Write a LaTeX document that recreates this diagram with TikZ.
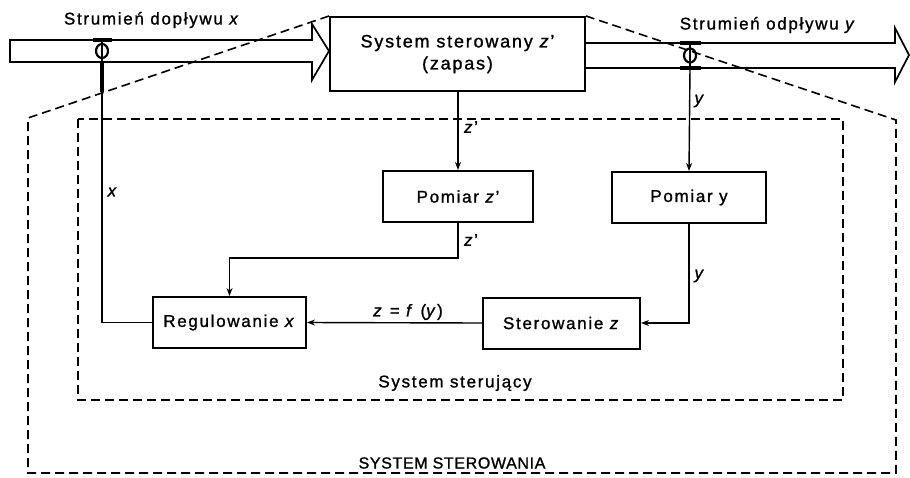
\documentclass[tikz,border=0pt]{standalone}
\usepackage{fontspec}
\setmainfont{Liberation Sans}[LetterSpace=10, FakeBold=1.2]
\usetikzlibrary{arrows.meta}
\begin{document}
\begin{tikzpicture}[x=1pt,y=-1pt,
  every node/.style={font=\fontsize{17}{22}\selectfont},
  box/.style={draw, line width=2pt, inner sep=0pt, minimum height=51pt, align=center},
  conn/.style={line width=1.4pt},
  arr/.style={conn, -{Stealth[length=8pt,width=6pt]}},
  bound/.style={line width=1.6pt, dash pattern=on 9pt off 5pt},
  flow/.style={line width=1.7pt, line join=miter},
  lbl/.style={inner sep=1pt}]
\useasboundingbox (0,0) rectangle (910,477);
% boxes
\node[box, minimum width=255pt, minimum height=74pt, font=\fontsize{18}{22}\selectfont] (main) at (457.5,54) {System sterowany \textit{z}'\\(zapas)};
\node[box, minimum width=150pt] (pz) at (458,196.5) {Pomiar \textit{z}'};
\node[box, minimum width=154pt] (py) at (689,197.5) {Pomiar y};
\node[box, minimum width=153pt] (reg) at (229.5,322.5) {Regulowanie \textit{x}};
\node[box, minimum width=157pt] (st) at (561.5,323) {Sterowanie \textit{z}};
% flow arrows
\draw[flow] (10,40) -- (312,40) -- (312,24) -- (329,51) -- (312,80) -- (312,62) -- (10,62) -- cycle;
\draw[flow] (main.east |- 0,43) -- (895,43) -- (895,28) -- (909,55) -- (895,82) -- (895,68) -- (main.east |- 0,68);
% valves
\coordinate (vx) at (102,62);
\coordinate (vy) at (690,68);
\draw[line width=3.5pt] (93,40) -- (112,40);
\draw[line width=2.2pt] (102,51) ellipse [x radius=6pt, y radius=7pt];
\draw[line width=1.4pt] (102,40) -- (vx);
\draw[line width=3.5pt] (vx) -- (102,92);
\draw[line width=3.5pt] (680,43) -- (701,43);
\draw[line width=3.5pt] (680,68) -- (701,68);
\draw[line width=2.2pt] (690,55.5) ellipse [x radius=6pt, y radius=7pt];
\draw[line width=1.4pt] (690,43) -- (vy);
% boundaries
\draw[bound] (main.north west) -- (28,118) -- (28,473) -- (896,473) -- (896,120) -- (main.north east);
\draw[bound] (78,119) rectangle (843,400);
% connectors
\draw[arr] (pz.north |- main.south) -- (pz.north);
\draw[arr] (vy) -- (py.north);
\draw[arr] (pz.south) -- ++(0,35) -| (reg.north);
\draw[arr] (py.south) |- (st.east);
\draw[arr] (st.west) -- (reg.east);
\draw[conn] (reg.west) -| (vx);
% labels
\node[lbl] (l1) at (152,20) {Strumień dopływu \textit{x}};
\node[lbl] (l2) at (768,25) {Strumień odpływu \textit{y}};
\node[lbl] (l3) at (471,127) {\textit{z}'};
\node[lbl] (l4) at (700,101) {\textit{y}};
\node[lbl] (l5) at (113,192) {\textit{x}};
\node[lbl] (l6) at (471,240) {\textit{z}'};
\node[lbl] (l7) at (700,276) {\textit{y}};
\node[lbl] (l8) at (408,312) {\textit{z} = \textit{f} (\textit{y})};
\node[lbl] (l9) at (455,383) {System sterujący};
\node[lbl, font=\fontsize{16}{20}\selectfont\addfontfeatures{LetterSpace=4}] (l10) at (452,463) {SYSTEM STEROWANIA};
\end{tikzpicture}
\end{document}
